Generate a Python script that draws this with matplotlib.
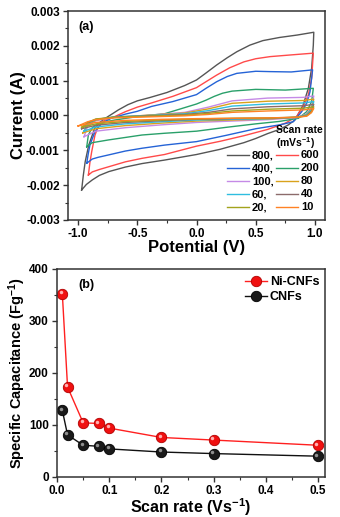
import matplotlib
matplotlib.use("Agg")
import matplotlib.pyplot as plt
from matplotlib.ticker import MultipleLocator, FormatStrFormatter
from matplotlib.transforms import ScaledTranslation

plt.rcParams['font.family'] = ['Liberation Sans', 'DejaVu Sans']
plt.rcParams['font.weight'] = 'bold'
plt.rcParams['axes.labelweight'] = 'bold'
plt.rcParams['mathtext.fontset'] = 'custom'
plt.rcParams['mathtext.rm'] = 'Liberation Sans:bold'
plt.rcParams['mathtext.bf'] = 'Liberation Sans:bold'
plt.rcParams['mathtext.default'] = 'rm'

# ---------------- CV data (potential V, current mA) ----------------
rates = ['800', '600', '400', '200', '100', '80', '60', '40', '20', '10']
colors = ['#555555', '#ff4a4a', '#2563d6', '#2aa06a', '#c58ae6', '#d9a21c',
          '#2fbde0', '#8c6b6b', '#a3a31c', '#ff8224']

# 800 mV/s
v800_up = [-0.97, -0.955, -0.94, -0.91, -0.86, -0.81, -0.77, -0.71, -0.66, -0.58, -0.5, -0.39, -0.25, -0.1, 0.0, 0.08, 0.17, 0.26, 0.34, 0.45, 0.56, 0.7, 0.85, 0.99]
i800_up = [-2.14, -1.70, -1.33, -0.85, -0.37, -0.18, -0.08, 0.05, 0.16, 0.31, 0.42, 0.52, 0.66, 0.86, 1.02, 1.22, 1.45, 1.66, 1.83, 2.02, 2.15, 2.24, 2.31, 2.39]
v800_lo = [0.99, 0.986, 0.972, 0.944, 0.90, 0.86, 0.83, 0.775, 0.7, 0.6, 0.5, 0.4, 0.2, 0.0, -0.27, -0.46, -0.6, -0.74, -0.82, -0.88, -0.93, -0.97]
i800_lo = [2.39, 2.02, 1.36, 0.78, 0.30, 0.05, -0.13, -0.27, -0.40, -0.52, -0.66, -0.78, -0.97, -1.12, -1.28, -1.38, -1.48, -1.61, -1.72, -1.85, -1.98, -2.14]

# 600 mV/s
v600_up = [-0.913, -0.9, -0.885, -0.857, -0.83, -0.8, -0.77, -0.69, -0.6, -0.5, -0.38, -0.2, 0.0, 0.08, 0.17, 0.28, 0.4, 0.5, 0.62, 0.8, 0.986]
i600_up = [-1.71, -1.35, -1.04, -0.56, -0.32, -0.20, -0.13, -0.03, 0.11, 0.24, 0.36, 0.55, 0.80, 0.97, 1.16, 1.37, 1.54, 1.63, 1.69, 1.74, 1.79]
v600_lo = [0.986, 0.972, 0.944, 0.90, 0.845, 0.75, 0.6, 0.4, 0.2, 0.0, -0.27, -0.46, -0.6, -0.74, -0.82, -0.88, -0.913]
i600_lo = [1.79, 1.07, 0.59, 0.25, -0.03, -0.22, -0.40, -0.58, -0.74, -0.88, -1.12, -1.23, -1.33, -1.47, -1.55, -1.62, -1.71]

# 400 mV/s
v400_up = [-0.927, -0.913, -0.90, -0.857, -0.80, -0.72, -0.6, -0.5, -0.38, -0.2, 0.0, 0.08, 0.17, 0.26, 0.34, 0.5, 0.62, 0.8, 0.98]
i400_up = [-1.37, -1.08, -0.85, -0.46, -0.22, -0.08, 0.04, 0.12, 0.26, 0.40, 0.60, 0.78, 0.97, 1.12, 1.21, 1.27, 1.26, 1.25, 1.31]
v400_lo = [0.98, 0.958, 0.93, 0.888, 0.817, 0.7, 0.5, 0.25, 0.0, -0.27, -0.46, -0.6, -0.74, -0.83, -0.88, -0.927]
i400_lo = [1.31, 0.68, 0.35, 0.11, -0.18, -0.27, -0.38, -0.57, -0.75, -0.85, -0.94, -1.02, -1.13, -1.20, -1.25, -1.37]

# 200 mV/s
v200_up = [-0.927, -0.913, -0.885, -0.83, -0.69, -0.5, -0.27, 0.0, 0.08, 0.15, 0.22, 0.3, 0.5, 0.75, 0.986]
i200_up = [-0.90, -0.56, -0.37, -0.22, -0.13, -0.03, 0.05, 0.33, 0.44, 0.55, 0.64, 0.70, 0.75, 0.73, 0.78]
v200_lo = [0.986, 0.972, 0.93, 0.86, 0.7, 0.5, 0.25, 0.0, -0.27, -0.46, -0.74, -0.88, -0.927]
i200_lo = [0.78, 0.40, 0.11, -0.08, -0.17, -0.24, -0.34, -0.45, -0.51, -0.56, -0.70, -0.78, -0.90]

# small scan rates share the same potential grid for the branches
v_small_up = [-0.92, -0.85, -0.7, -0.4, -0.1, 0.1, 0.3, 0.6, 0.9, 0.99]
v_small_lo = [0.99, 0.97, 0.93, 0.85, 0.6, 0.3, 0.0, -0.3, -0.6, -0.85]

v100_vtx, i100_vtx = -0.95, -0.61
i100_up = [-0.32, -0.15, -0.06, 0.01, 0.09, 0.24, 0.42, 0.50, 0.52, 0.56]
i100_lo = [0.56, 0.25, 0.05, -0.06, -0.12, -0.16, -0.20, -0.27, -0.35, -0.45]

v80_vtx, i80_vtx = -0.96, -0.50
i80_up = [-0.28, -0.13, -0.05, 0.01, 0.07, 0.19, 0.35, 0.41, 0.43, 0.47]
i80_lo = [0.47, 0.20, 0.03, -0.05, -0.10, -0.13, -0.16, -0.22, -0.29, -0.38]

v60_vtx, i60_vtx = -0.95, -0.45
i60_up = [-0.25, -0.12, -0.04, 0.0, 0.05, 0.14, 0.27, 0.33, 0.36, 0.40]
i60_lo = [0.40, 0.17, 0.02, -0.05, -0.09, -0.11, -0.13, -0.18, -0.24, -0.33]

v40_vtx, i40_vtx = -0.97, -0.38
i40_up = [-0.22, -0.11, -0.05, -0.01, 0.03, 0.09, 0.19, 0.25, 0.28, 0.32]
i40_lo = [0.32, 0.13, 0.0, -0.05, -0.08, -0.09, -0.11, -0.15, -0.20, -0.28]

v20_vtx, i20_vtx = -0.97, -0.34
i20_up = [-0.20, -0.10, -0.05, -0.02, 0.01, 0.06, 0.13, 0.18, 0.21, 0.25]
i20_lo = [0.25, 0.10, -0.01, -0.05, -0.07, -0.08, -0.10, -0.13, -0.17, -0.24]

v10_vtx, i10_vtx = -1.0, -0.30
i10_up = [-0.18, -0.12, -0.07, -0.04, -0.01, 0.03, 0.09, 0.13, 0.16, 0.20]
i10_lo = [0.20, 0.08, -0.02, -0.05, -0.07, -0.08, -0.09, -0.11, -0.14, -0.20]

# ---------------- Specific capacitance data ----------------
scan_rate = [0.01, 0.02, 0.05, 0.08, 0.1, 0.2, 0.3, 0.5]
cap_ni_cnfs = [352, 173, 104, 103, 94, 76, 71, 61]
cap_cnfs = [128, 81, 61, 59, 54, 48, 45, 40]


def loop_big(vu, iu, vl, il):
    return vu + vl + [vu[0]], iu + il + [iu[0]]


def loop_small(vv, iv, iu, il):
    xs = [vv] + v_small_up + v_small_lo + [vv]
    ys = [iv] + iu + il + [iv]
    return xs, ys


loops = [
    loop_big(v800_up, i800_up, v800_lo, i800_lo),
    loop_big(v600_up, i600_up, v600_lo, i600_lo),
    loop_big(v400_up, i400_up, v400_lo, i400_lo),
    loop_big(v200_up, i200_up, v200_lo, i200_lo),
    loop_small(v100_vtx, i100_vtx, i100_up, i100_lo),
    loop_small(v80_vtx, i80_vtx, i80_up, i80_lo),
    loop_small(v60_vtx, i60_vtx, i60_up, i60_lo),
    loop_small(v40_vtx, i40_vtx, i40_up, i40_lo),
    loop_small(v20_vtx, i20_vtx, i20_up, i20_lo),
    loop_small(v10_vtx, i10_vtx, i10_up, i10_lo),
]

fig = plt.figure(figsize=(3.4, 5.17), dpi=100)
ax1 = fig.add_axes([0.200, 0.5745, 0.756, 0.4042])
ax2 = fig.add_axes([0.168, 0.0774, 0.788, 0.4023])

spine_c = '#333333'
for ax in (ax1, ax2):
    for s in ax.spines.values():
        s.set_color(spine_c)
        s.set_linewidth(1.1)
    ax.tick_params(which='both', direction='out', color=spine_c, labelsize=8.5,
                   top=False, right=False, pad=2.5)
    ax.tick_params(which='major', length=3.5, width=1.0)
    ax.tick_params(which='minor', length=2, width=0.8)

# ---- panel (a)
labels = [r + ',' if k % 2 == 0 else r for k, r in enumerate(rates)]
handles = {}
for k, ((xs, ys), c) in enumerate(zip(loops, colors)):
    ln, = ax1.plot(xs, [y / 1000.0 for y in ys], color=c, lw=1.0)
    handles[k] = ln

ax1.set_xlim(-1.085, 1.085)
ax1.set_ylim(-0.003, 0.003)
ax1.xaxis.set_major_locator(MultipleLocator(0.5))
ax1.xaxis.set_minor_locator(MultipleLocator(0.25))
ax1.yaxis.set_major_locator(MultipleLocator(0.001))
ax1.yaxis.set_minor_locator(MultipleLocator(0.0005))
ax1.xaxis.set_major_formatter(FormatStrFormatter('%.1f'))
ax1.yaxis.set_major_formatter(FormatStrFormatter('%.3f'))
ax1.set_xlabel('Potential (V)', fontsize=12, labelpad=0)
ax1.set_ylabel('Current (A)', fontsize=12, labelpad=0)
ax1.text(0.04, 0.95, '(a)', transform=ax1.transAxes, fontsize=9,
         fontweight='bold', va='top', ha='left')

order = [0, 2, 4, 6, 8, 1, 3, 5, 7, 9]
leg = ax1.legend([handles[k] for k in order], [labels[k] for k in order],
                 ncol=2, loc='lower right', bbox_to_anchor=(1.005, 0.004),
                 frameon=False, fontsize=8, handlelength=2.0, handletextpad=0.25,
                 columnspacing=0.2, labelspacing=0.27, borderpad=0.1)
ax1.text(0.81, 0.43, 'Scan rate', transform=ax1.transAxes, fontsize=7.5,
         fontweight='bold', ha='left', va='center')
ax1.text(0.81, 0.37, '(mVs$^{-1}$)', transform=ax1.transAxes, fontsize=7.5,
         fontweight='bold', ha='left', va='center')

# ---- panel (b)
off_tr = ScaledTranslation(-1.2 / 72, 1.2 / 72, fig.dpi_scale_trans)
ax2.plot(scan_rate, cap_ni_cnfs, color='#ff2020', lw=1.0, marker='o', ms=7.5,
         mfc='#f01010', mec='#b00000', mew=0.6, label='Ni-CNFs')
ax2.plot(scan_rate, cap_ni_cnfs, ls='none', marker='o', ms=2.5, mfc='#ffb0b0',
         mec='none', transform=ax2.transData + off_tr)
ax2.plot(scan_rate, cap_cnfs, color='#111111', lw=1.0, marker='o', ms=7.5,
         mfc='#1a1a1a', mec='#000000', mew=0.6, label='CNFs')
ax2.plot(scan_rate, cap_cnfs, ls='none', marker='o', ms=2.5, mfc='#909090',
         mec='none', transform=ax2.transData + off_tr)

ax2.set_xlim(0, 0.5134)
ax2.set_ylim(0, 400)
ax2.xaxis.set_major_locator(MultipleLocator(0.1))
ax2.xaxis.set_minor_locator(MultipleLocator(0.05))
ax2.yaxis.set_major_locator(MultipleLocator(100))
ax2.yaxis.set_minor_locator(MultipleLocator(50))
ax2.xaxis.set_major_formatter(FormatStrFormatter('%.1f'))
ax2.set_xlabel('Scan rate (Vs$^{-1}$)', fontsize=11.5, labelpad=-1)
ax2.set_ylabel('Specific Capacitance (Fg$^{-1}$)', fontsize=10.5, labelpad=1)
ax2.text(0.08, 0.95, '(b)', transform=ax2.transAxes, fontsize=9,
         fontweight='bold', va='top', ha='left')
ax2.legend(loc='upper right', bbox_to_anchor=(1.02, 1.02), frameon=False,
           fontsize=9, handlelength=1.8, handletextpad=0.2, labelspacing=0.25)

fig.savefig('out.png', dpi=100, facecolor='white')
